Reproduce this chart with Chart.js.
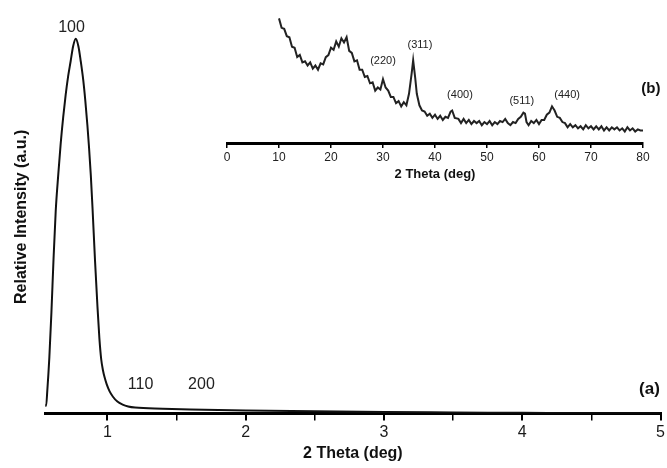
<!DOCTYPE html>
<html>
<head>
<meta charset="utf-8">
<script src="https://cdn.jsdelivr.net/npm/chart.js@4.4.0/dist/chart.umd.min.js"></script>
<style>
  html, body { margin: 0; padding: 0; background: #fff; }
  #wrap { position: relative; width: 667px; height: 468px; }
  #mainChart { position: absolute; left: 0; top: 0; }
  #insetChart { position: absolute; left: 200px; top: 0; }
</style>
</head>
<body>
<div id="wrap">
  <canvas id="mainChart" width="667" height="468"></canvas>
  <canvas id="insetChart" width="467" height="190"></canvas>
</div>
<script>
// (a) small-angle pattern, 2 theta in degrees
var lowAngle = [0.551, 0.556, 0.565, 0.58, 0.595, 0.61, 0.626, 0.645, 0.662, 0.68, 0.698, 0.716, 0.734, 0.752, 0.771,
  0.79, 0.807, 0.825, 0.84, 0.855, 0.867, 0.88, 0.892, 0.91, 0.928, 0.942, 0.955, 0.968, 0.98, 0.995, 1.015, 1.04, 1.072, 1.11, 1.15, 1.20,
  1.4, 1.6, 2.0, 2.5, 3.0, 3.5, 4.0, 4.5, 5.0];
var lowIntensity = [2.5, 2, 6, 15, 27, 41, 54, 64, 72, 79, 85, 90, 94, 98, 100,
  98, 94, 89, 83.5, 77, 71, 63.5, 55, 41, 28.5, 20, 14.5, 11.5, 9.6, 7.8, 6, 4.5, 3.2, 2.4, 1.9, 1.6,
  1.3, 1.1, 0.8, 0.6, 0.4, 0.3, 0.2, 0.1, 0.05];

// (b) wide-angle pattern (inset)
var wideAngle = [10, 10.5, 11, 11.5, 12, 12.5, 13, 13.5, 14, 14.5, 15, 15.5, 16, 16.5, 17, 17.5, 18, 18.5, 19, 19.5,
  20, 20.5, 21, 21.5, 22, 22.5, 23, 23.5, 24, 24.5, 25, 25.5, 26, 26.5, 27, 27.5, 28, 28.5, 29, 29.5,
  30, 30.5, 31, 31.5, 32, 32.5, 33, 33.5, 34, 34.5, 35, 35.5, 35.8, 36.2, 36.5, 37, 37.5, 38, 38.5, 39, 39.5,
  40, 40.5, 41, 41.5, 42, 42.5, 43, 43.3, 43.8, 44.5, 45, 45.5, 46, 46.5, 47, 47.5, 48, 48.5, 49, 49.5,
  50, 50.5, 51, 51.5, 52, 52.5, 53, 53.5, 54, 54.5, 55, 55.5, 56, 56.5, 57, 57.3, 57.6, 58, 58.5, 59, 59.5,
  60, 60.5, 61, 61.5, 62, 62.5, 63, 63.5, 64, 64.5, 65, 65.5, 66, 66.5, 67, 67.5, 68, 68.5, 69, 69.5,
  70, 70.5, 71, 71.5, 72, 72.5, 73, 73.5, 74, 74.5, 75, 75.5, 76, 76.5, 77, 77.5, 78, 78.5, 79, 79.5, 80];
var wideIntensity = [119, 110, 109, 102, 101, 92, 91, 82, 84, 77, 78, 74, 77, 71, 74, 70, 76, 75, 82, 84,
  91, 89, 97, 92, 100, 96, 101, 88, 86, 78, 79, 70, 70, 63, 64, 57, 58, 50, 53, 51,
  61, 53, 50, 44, 44, 38, 40, 35, 39, 36, 47, 66, 79, 62, 47, 36, 31, 30, 26, 28, 24,
  27, 23, 26, 22, 25, 24, 30, 31, 24, 23, 19, 23, 19, 22, 18, 21, 19, 21, 17, 20,
  18, 21, 17, 20, 18, 21, 20, 23, 19, 17, 20, 19, 23, 25, 29, 28, 20, 17, 21, 19, 22,
  18, 22, 22, 27, 29, 35, 31, 25, 24, 20, 19, 15, 18, 15, 17, 14, 16, 13, 17, 14,
  16, 13, 16, 13, 16, 12, 15, 12, 15, 13, 15, 12, 14, 11, 15, 12, 14, 11, 13, 12, 12];

// peak labels
var lowPeakText = ['100', '110', '200'];
var lowPeakX = [0.74, 1.24, 1.68];
var lowPeakY = [103, 7.8, 7.8];
var widePeakText = ['(220)', '(311)', '(400)', '(511)', '(440)'];
var widePeakX = [30, 37.1, 44.8, 56.7, 65.4];
var widePeakY = [78, 94, 46, 40, 46];

var xTitle = '2 Theta (deg)';
var yTitle = 'Relative Intensity (a.u.)';

var FONT = '"Liberation Sans", Arial, sans-serif';

function toPoints(xs, ys) {
  var pts = [];
  for (var i = 0; i < xs.length; i++) pts.push({ x: xs[i], y: ys[i] });
  return pts;
}

// draws peak labels and the panel tag from the chart's own scales
function labelPlugin(texts, xs, ys, size, tagSize, tag, tagX, tagY) {
  return {
    id: 'peakLabels',
    afterDraw: function (chart) {
      var c = chart.ctx, sx = chart.scales.x, sy = chart.scales.y;
      c.save();
      c.textAlign = 'center';
      c.textBaseline = 'middle';
      c.fillStyle = '#222';
      c.font = size + 'px ' + FONT;
      for (var i = 0; i < texts.length; i++) {
        c.fillText(texts[i], sx.getPixelForValue(xs[i]), sy.getPixelForValue(ys[i]));
      }
      c.fillStyle = '#111';
      c.font = 'bold ' + tagSize + 'px ' + FONT;
      c.fillText(tag, sx.getPixelForValue(tagX), sy.getPixelForValue(tagY));
      c.restore();
    }
  };
}

var ctx = document.getElementById('mainChart');
var mainChart = new Chart(ctx, {
  type: 'line',
  data: {
    datasets: [{
      data: toPoints(lowAngle, lowIntensity),
      borderColor: '#111',
      borderWidth: 2,
      pointRadius: 0,
      fill: false,
      cubicInterpolationMode: 'monotone'
    }]
  },
  options: {
    responsive: false,
    animation: false,
    layout: { padding: { left: 3, right: 6, top: 20, bottom: 4 } },
    plugins: { legend: { display: false }, tooltip: { enabled: false } },
    scales: {
      x: {
        type: 'linear',
        min: 0.55,
        max: 5,
        border: { display: true, color: '#000', width: 3 },
        grid: { drawOnChartArea: false, drawTicks: true, tickLength: 7, color: '#000',
          lineWidth: function (c) { return Number.isInteger(c.tick.value) ? 2 : 1.5; } },
        ticks: {
          stepSize: 0.5,
          includeBounds: false,
          maxRotation: 0,
          autoSkip: false,
          color: '#1a1a1a',
          font: { family: FONT, size: 16 },
          padding: 2,
          callback: function (v) { return Number.isInteger(v) ? v : ''; }
        },
        title: { display: true, text: xTitle, color: '#111', font: { family: FONT, size: 16, weight: 'bold' }, padding: { top: 0, bottom: 1 } }
      },
      y: {
        min: 0,
        max: 105,
        border: { display: false },
        grid: { display: false },
        ticks: { display: false },
        title: { display: true, text: yTitle, color: '#111', font: { family: FONT, size: 16, weight: 'bold' }, padding: { top: 9, bottom: 6 } }
      }
    }
  },
  plugins: [labelPlugin(lowPeakText, lowPeakX, lowPeakY, 16, 17, '(a)', 4.92, 6.4)]
});

var ctx2 = document.getElementById('insetChart');
var insetChart = new Chart(ctx2, {
  type: 'line',
  data: {
    datasets: [{
      data: toPoints(wideAngle, wideIntensity),
      borderColor: '#222',
      borderWidth: 2,
      pointRadius: 0,
      fill: false,
      tension: 0
    }]
  },
  options: {
    responsive: false,
    animation: false,
    layout: { padding: { left: 27, right: 24, top: 10, bottom: 8 } },
    plugins: { legend: { display: false }, tooltip: { enabled: false } },
    scales: {
      x: {
        type: 'linear',
        min: 0,
        max: 80,
        border: { display: true, color: '#000', width: 3 },
        grid: { drawOnChartArea: false, drawTicks: true, tickLength: 5, color: '#000', lineWidth: 1.5 },
        ticks: {
          stepSize: 10,
          maxRotation: 0,
          autoSkip: false,
          color: '#222',
          font: { family: FONT, size: 12 },
          padding: 2
        },
        title: { display: true, text: xTitle, color: '#111', font: { family: FONT, size: 13, weight: 'bold' }, padding: { top: 0, bottom: 0 } }
      },
      y: {
        display: false,
        min: 0,
        max: 127
      }
    }
  },
  plugins: [labelPlugin(widePeakText, widePeakX, widePeakY, 11, 15, '(b)', 81.5, 52)]
});
</script>
</body>
</html>
